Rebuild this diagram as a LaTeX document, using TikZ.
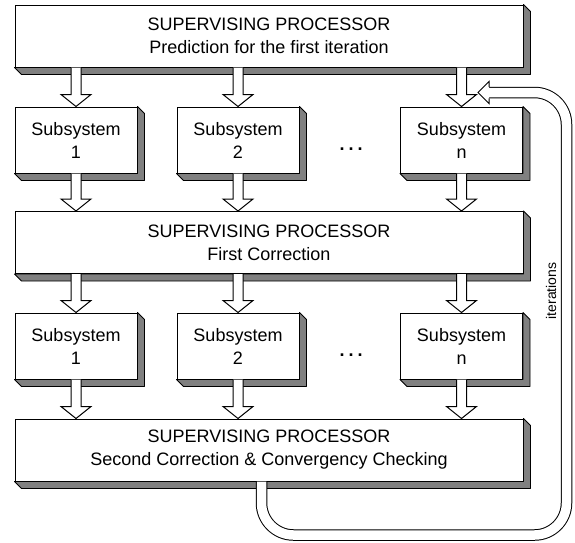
\documentclass[tikz,border=0pt]{standalone}
\usepackage{fontspec}
\setmainfont{Liberation Sans}
\usetikzlibrary{calc}
\newcommand\bevelbox[1]{\draw[bevel] (#1.north east) -- ++(7,7) -- ($(#1.south east)+(7,7)$) -- ($(#1.south west)+(7,7)$) -- (#1.south west) -- (#1.south east) -- cycle;}
\newcommand\blkarrow[3]{\draw[barrow] let \p1=(#3.center), \p2=(#1.south), \p3=(#2.north) in (\x1-5pt,\y2) -- (\x1-5pt,\y3+12pt) -- (\x1-15pt,\y3+12pt) -- (\x1,\y3) -- (\x1+15pt,\y3+12pt) -- (\x1+5pt,\y3+12pt) -- (\x1+5pt,\y2);}
\begin{document}
\begin{tikzpicture}[x=1pt,y=-1pt,
  box/.style={draw, fill=white, line width=1pt, inner sep=0pt, align=center,
    font=\fontsize{18}{23}\selectfont},
  supbox/.style={box, minimum width=508pt, minimum height=62pt},
  subbox/.style={box, minimum width=122pt, minimum height=66pt},
  bevel/.style={draw, fill=black!50, line width=0.9pt, line join=round},
  barrow/.style={draw, fill=white, line width=1pt},
  tube/.style={draw=black, line width=1pt, double=white, double distance=9.5pt, rounded corners=32pt},
  dotstyle/.style={font=\fontsize{18}{23}\selectfont\bfseries, anchor=base, inner sep=0pt},
]
\useasboundingbox (0,0) rectangle (575,542);
% boxes
\node[supbox] (S1) at (269,36) {SUPERVISING PROCESSOR\\Prediction for the first iteration};
\node[subbox] (A1) at (76,140) {Subsystem\\1};
\node[subbox] (A2) at (238,140) {Subsystem\\2};
\node[subbox] (An) at (461.5,140) {Subsystem\\n};
\node[supbox] (S2) at (269,242.5) {SUPERVISING PROCESSOR\\First Correction};
\node[subbox] (B1) at (76,346) {Subsystem\\1};
\node[subbox] (B2) at (238,346) {Subsystem\\2};
\node[subbox] (Bn) at (461.5,346) {Subsystem\\n};
\node[supbox] (S3) at (269,450) {SUPERVISING PROCESSOR\\Second Correction \& Convergency Checking};
\node[dotstyle] (D1) at (351,150) {.\hspace{4pt}.\hspace{4pt}.};
\node[dotstyle] (D2) at (351,356) {.\hspace{4pt}.\hspace{4pt}.};
% bevels
\foreach \b in {S1,A1,A2,An,S2,B1,B2,Bn,S3} {\bevelbox{\b}}
% block arrows
\blkarrow{S1}{A1}{A1}
\blkarrow{S1}{A2}{A2}
\blkarrow{S1}{An}{An}
\blkarrow{A1}{S2}{A1}
\blkarrow{A2}{S2}{A2}
\blkarrow{An}{S2}{An}
\blkarrow{S2}{B1}{B1}
\blkarrow{S2}{B2}{B2}
\blkarrow{S2}{Bn}{Bn}
\blkarrow{B1}{S3}{B1}
\blkarrow{B2}{S3}{B2}
\blkarrow{Bn}{S3}{Bn}
% iteration loop
\coordinate (T0) at (261.5,481);
\coordinate (T1) at (489,92.5);
\draw[tube] (T0 |- S3.south) -- (261.5,535) -- (566.5,535) -- (566.5,92.5) -- (T1);
\draw[barrow] ($(T1)+(0,-5.75)$) -- ($(T1)+(0,-11)$) -- ($(T1)+(-11,0)$) -- ($(T1)+(0,11)$) -- ($(T1)+(0,5.75)$);
\node[rotate=90, font=\fontsize{14}{14}\selectfont] (it) at (551,291) {iterations};
\end{tikzpicture}
\end{document}
